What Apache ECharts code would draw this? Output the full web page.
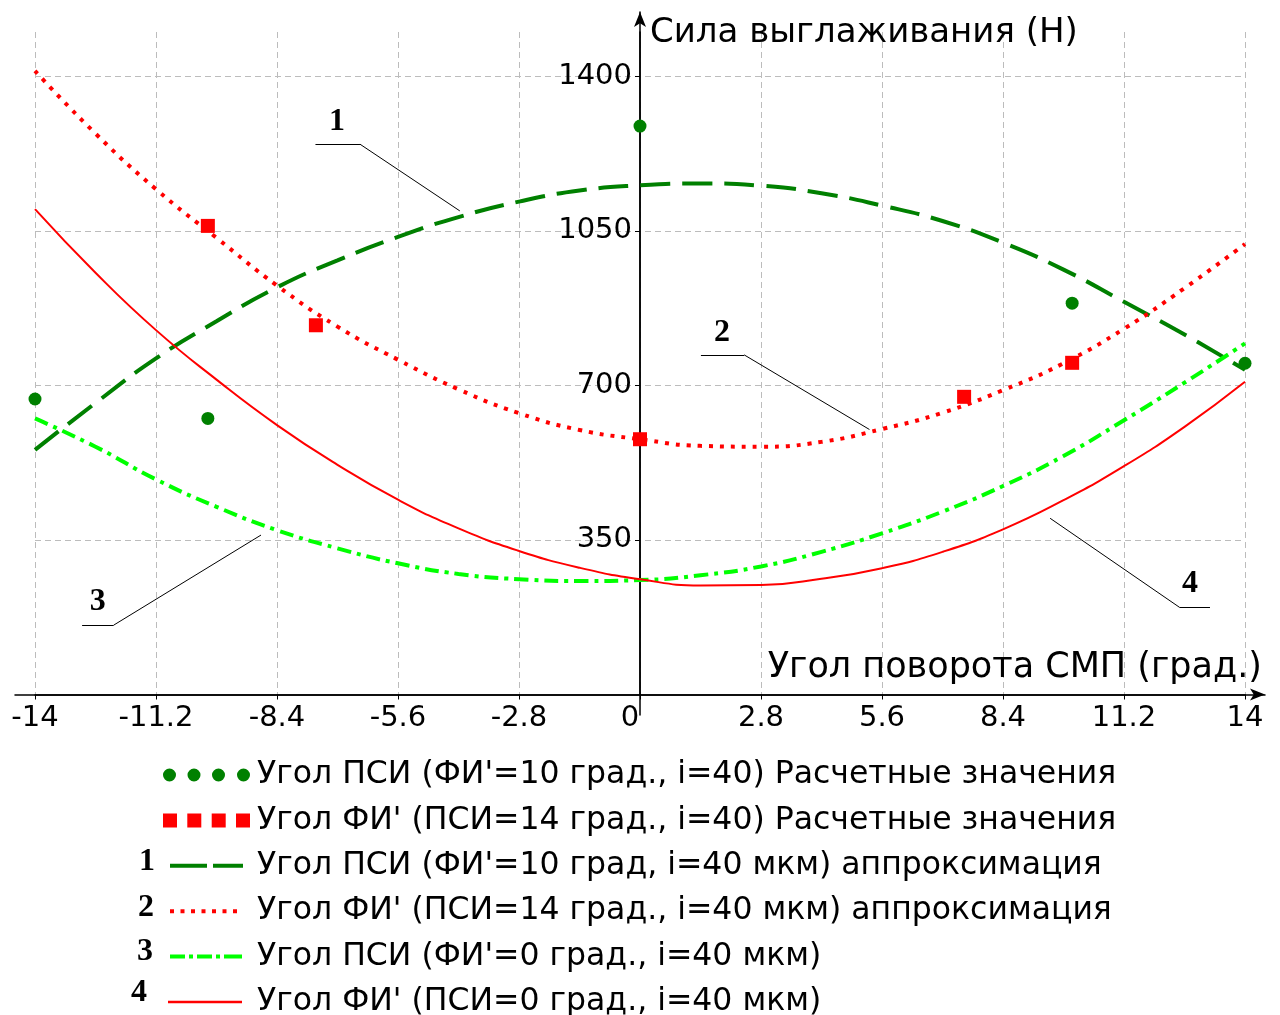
<!DOCTYPE html>
<html><head><meta charset="utf-8">
<script src="https://cdn.jsdelivr.net/npm/echarts@6/dist/echarts.min.js"></script>
<style>html,body{margin:0;padding:0;background:#fff}#c{width:1280px;height:1015px}</style>
</head><body><div id="c"></div>
<script>
// ---- data ----
const xTickLabels = ['-14','-11.2','-8.4','-5.6','-2.8','0','2.8','5.6','8.4','11.2','14'];
const yTickLabels = ['350','700','1050','1400'];
const xName = 'Угол поворота СМП (град.)';
const yName = 'Сила выглаживания (Н)';
const seriesNames = [
  "Угол ПСИ (ФИ'=10 град., i=40) Расчетные значения",
  "Угол ФИ' (ПСИ=14 град., i=40) Расчетные значения",
  "Угол ПСИ (ФИ'=10 град, i=40 мкм) аппроксимация",
  "Угол ФИ' (ПСИ=14 град., i=40 мкм) аппроксимация",
  "Угол ПСИ (ФИ'=0 град., i=40 мкм)",
  "Угол ФИ' (ПСИ=0 град., i=40 мкм)"
];
const curveNumbers = ['1','2','3','4'];
// calculated points
const psiCalcX = [-14, -10, 0, 10, 14];
const psiCalcY = [669, 625, 1287, 886, 750];
const phiCalcX = [-10, -7.5, 0, 7.5, 10];
const phiCalcY = [1061, 836, 578, 674, 751];
// approximation curves
const curveX = [-14,-12.6,-11.2,-9.8,-8.4,-7.0,-5.6,-4.2,-2.8,-1.4,0,1.4,2.8,4.2,5.6,7.0,8.4,9.8,11.2,12.6,14];
const curve1 = [554,660,761,845,922,983,1036,1081,1116,1141,1153,1157,1152,1135,1107,1072,1023,962,889,815,735];
const curve2 = [1412,1270,1144,1034,926,833,758,691,637,599,578,563,561,572,601,638,689,750,828,920,1020];
const curve3 = [625,561,487,425,372,331,297,273,261,257,259,270,290,323,365,414,472,540,621,706,795];
const curve4 = [1099,955,825,713,610,520,441,376,325,287,261,247,248,262,286,323,374,440,517,606,708];
// annotation leader lines (data units): underline start, underline end, target on curve; label position
const ann1 = {line: [[-7.51,1246],[-6.48,1246],[-4.17,1095]], label: [-7.01,1297]};
const ann2 = {line: [[1.41,769],[2.41,769],[5.31,600]], label: [1.90,818]};
const ann3 = {line: [[-12.91,157],[-12.18,157],[-8.77,361]], label: [-12.55,210]};
const ann4 = {line: [[13.19,197],[12.49,197],[9.49,399]], label: [12.73,250]};

// ---- build ----
const zip = (xs, ys) => xs.map((x, i) => [x, ys[i]]);
const FONT = 'DejaVu Sans';
const SERIF = 'Liberation Serif';
function annMark(a, num) {
  return {
    markLine: {
      silent: true, animation: false, symbol: ['none','none'],
      label: {show: false},
      lineStyle: {color: '#000', width: 1, type: 'solid'},
      emphasis: {disabled: true},
      data: [
        [{coord: a.line[0]}, {coord: a.line[1]}],
        [{coord: a.line[1]}, {coord: a.line[2]}]
      ]
    },
    markPoint: {
      silent: true, animation: false, symbol: 'circle', symbolSize: 0,
      label: {show: true, position: 'inside', formatter: num, color: '#000',
        fontFamily: SERIF, fontWeight: 'bold', fontSize: 32},
      data: [{coord: a.label}]
    }
  };
}
const iconDots = 'path://M0,0L0,0M89,14L89,14M0,7a6.5,6.5 0 1 0 13,0a6.5,6.5 0 1 0 -13,0ZM24.5,7a6.5,6.5 0 1 0 13,0a6.5,6.5 0 1 0 -13,0ZM49,7a6.5,6.5 0 1 0 13,0a6.5,6.5 0 1 0 -13,0ZM74,7a6.5,6.5 0 1 0 13,0a6.5,6.5 0 1 0 -13,0Z';
const iconSquares = 'path://M0,0L0,0M89,14L89,14M0,0h14v14h-14ZM24.3,0h14v14h-14ZM48.7,0h14v14h-14ZM73,0h14v14h-14Z';
const iconDash = 'path://M0,0L0,0M89,14L89,14M7,5h37v4h-37ZM50,5h30v4h-30Z';
const iconDot = 'path://M0,0L0,0M89,14L89,14M7,5h4v4h-4ZM17.5,5h4v4h-4ZM28,5h4v4h-4ZM38.5,5h4v4h-4ZM49,5h4v4h-4ZM59.5,5h4v4h-4ZM70,5h4v4h-4Z';
const iconDashDot = 'path://M0,0L0,0M89,14L89,14M7,5h15v4h-15ZM26,5h4v4h-4ZM34,5h15v4h-15ZM53,5h4v4h-4ZM61,5h18v4h-18Z';
const iconSolid = 'path://M0,0L0,0M89,14L89,14M5,5.8h74v2.4h-74Z';

const tickText = {fontFamily: FONT, fontSize: 29, color: '#000'};
const zeroX = 640, zeroY = 694.5;
const g0 = {left: 35, right: 35, top: 32, bottom: 1015 - zeroY};
const g1 = {left: 15, right: 15, top: 12, bottom: 300};

const option = {
  animation: false,
  backgroundColor: '#fff',
  textStyle: {fontFamily: FONT},
  grid: [
    Object.assign({outerBoundsMode: 'none', containLabel: false}, g0),
    Object.assign({outerBoundsMode: 'none', containLabel: false}, g1)
  ],
  xAxis: [
    {gridIndex: 0, type: 'value', min: -14, max: 14, interval: 2.8, position: 'bottom',
      axisLine: {show: true, onZero: false, lineStyle: {color: '#000', width: 1.5}},
      axisTick: {show: true, length: 5, lineStyle: {color: '#000'}},
      axisLabel: Object.assign({margin: 9,
        formatter: v => {
          const l = xTickLabels.find(t => Math.abs(parseFloat(t) - v) < 1e-6) || String(v);
          return l === '0' ? '{z|0}' : l;
        },
        rich: {z: Object.assign({padding: [0, 20, 0, 0]}, tickText)}
      }, tickText),
      splitLine: {show: true, lineStyle: {color: '#bcbcbc', width: 1, type: [6, 4]}}
    },
    {gridIndex: 1, type: 'value', min: 0, max: 1, position: 'bottom',
      offset: -(1015 - g1.bottom - zeroY),
      axisLine: {show: true, onZero: false, symbol: ['none', 'arrow'], symbolSize: [9, 15],
        lineStyle: {color: '#000', width: 1.5}},
      axisTick: {show: false}, axisLabel: {show: false}, splitLine: {show: false},
      name: xName, nameLocation: 'end', nameGap: -3,
      nameTextStyle: {fontFamily: FONT, fontSize: 35, color: '#000',
        align: 'right', verticalAlign: 'bottom', padding: [0, 0, 9, 0]}
    }
  ],
  yAxis: [
    {gridIndex: 0, type: 'value', min: 0, max: 1500, interval: 350, position: 'left',
      offset: -(zeroX - g0.left),
      axisLine: {show: true, onZero: false, lineStyle: {color: '#000', width: 1.5}},
      axisTick: {show: true, length: 5, lineStyle: {color: '#000'}},
      axisLabel: Object.assign({margin: 8, showMinLabel: false, showMaxLabel: false,
        formatter: v => yTickLabels.find(t => parseFloat(t) === v) || ''}, tickText),
      splitLine: {show: true, showMinLine: false, showMaxLine: false,
        lineStyle: {color: '#bcbcbc', width: 1, type: [6, 4]}}
    },
    {gridIndex: 1, type: 'value', min: 0, max: 1, position: 'left',
      offset: -(zeroX - g1.left),
      axisLine: {show: true, onZero: false, symbol: ['none', 'arrow'], symbolSize: [9, 15],
        lineStyle: {color: '#000', width: 1.5}},
      axisTick: {show: false}, axisLabel: {show: false}, splitLine: {show: false},
      name: yName, nameLocation: 'end', nameGap: -(33.5 - g1.top),
      nameTextStyle: {fontFamily: FONT, fontSize: 34, color: '#000',
        align: 'left', verticalAlign: 'middle', padding: [0, 0, 0, 10]}
    }
  ],
  legend: {
    orient: 'vertical', left: 163, top: 759, itemGap: 13.4, padding: 0, height: 300,
    itemWidth: 89, itemHeight: 14, selectedMode: false,
    itemStyle: {borderWidth: 0},
    textStyle: {fontFamily: FONT, fontSize: 31.5, color: '#000', lineHeight: 30},
    data: [
      {name: seriesNames[0], icon: iconDots},
      {name: seriesNames[1], icon: iconSquares},
      {name: seriesNames[2], icon: iconDash},
      {name: seriesNames[3], icon: iconDot},
      {name: seriesNames[4], icon: iconDashDot},
      {name: seriesNames[5], icon: iconSolid}
    ]
  },
  graphic: [
    {type: 'text', x: 147, y: 862, style: {text: curveNumbers[0], align: 'center', verticalAlign: 'middle', font: 'bold 32px "Liberation Serif"', fill: '#000'}},
    {type: 'text', x: 146, y: 908, style: {text: curveNumbers[1], align: 'center', verticalAlign: 'middle', font: 'bold 32px "Liberation Serif"', fill: '#000'}},
    {type: 'text', x: 145, y: 952, style: {text: curveNumbers[2], align: 'center', verticalAlign: 'middle', font: 'bold 32px "Liberation Serif"', fill: '#000'}},
    {type: 'text', x: 139, y: 993, style: {text: curveNumbers[3], align: 'center', verticalAlign: 'middle', font: 'bold 32px "Liberation Serif"', fill: '#000'}}
  ],
  series: [
    Object.assign({type: 'line', name: seriesNames[2], xAxisIndex: 0, yAxisIndex: 0,
      data: zip(curveX, curve1), symbol: 'none', showSymbol: false, smooth: 0.5, z: 3,
      color: '#008000', itemStyle: {color: '#008000'},
      lineStyle: {color: '#008000', width: 4, type: [30, 12]}}, annMark(ann1, curveNumbers[0])),
    Object.assign({type: 'line', name: seriesNames[3], xAxisIndex: 0, yAxisIndex: 0,
      data: zip(curveX, curve2), symbol: 'none', showSymbol: false, smooth: 0.5, z: 3,
      color: '#ff0000', itemStyle: {color: '#ff0000'},
      lineStyle: {color: '#ff0000', width: 4, type: [4, 7]}}, annMark(ann2, curveNumbers[1])),
    Object.assign({type: 'line', name: seriesNames[4], xAxisIndex: 0, yAxisIndex: 0,
      data: zip(curveX, curve3), symbol: 'none', showSymbol: false, smooth: 0.5, z: 3,
      color: '#00ff00', itemStyle: {color: '#00ff00'},
      lineStyle: {color: '#00ff00', width: 4, type: [14, 6, 4, 6]}}, annMark(ann3, curveNumbers[2])),
    Object.assign({type: 'line', name: seriesNames[5], xAxisIndex: 0, yAxisIndex: 0,
      data: zip(curveX, curve4), symbol: 'none', showSymbol: false, smooth: 0.5, z: 3,
      color: '#ff0000', itemStyle: {color: '#ff0000'},
      lineStyle: {color: '#ff0000', width: 2, type: 'solid'}}, annMark(ann4, curveNumbers[3])),
    {type: 'scatter', name: seriesNames[0], xAxisIndex: 0, yAxisIndex: 0,
      data: zip(psiCalcX, psiCalcY), symbol: 'circle', symbolSize: 13, z: 5,
      itemStyle: {color: '#008000', opacity: 1}},
    {type: 'scatter', name: seriesNames[1], xAxisIndex: 0, yAxisIndex: 0,
      data: zip(phiCalcX, phiCalcY), symbol: 'rect', symbolSize: 14, z: 5,
      itemStyle: {color: '#ff0000', opacity: 1}}
  ]
};
const chart = echarts.init(document.getElementById('c'), null, {renderer: 'canvas'});
chart.setOption(option);
</script></body></html>
